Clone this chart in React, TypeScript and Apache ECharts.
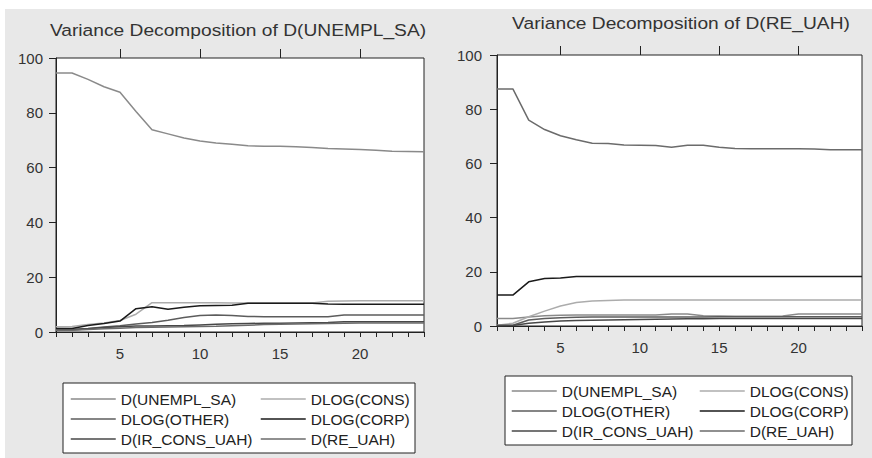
import React, { useEffect, useRef } from "react";
import * as echarts from "echarts";

const FONT = "'Liberation Sans', Arial, sans-serif";

const PERIODS = [1, 2, 3, 4, 5, 6, 7, 8, 9, 10, 11, 12, 13, 14, 15, 16, 17, 18, 19, 20, 21, 22, 23, 24];
const X_LABELS = [5, 10, 15, 20];
const SERIES_NAMES = ["D(UNEMPL_SA)", "DLOG(CONS)", "DLOG(OTHER)", "DLOG(CORP)", "D(IR_CONS_UAH)", "D(RE_UAH)"];
const SERIES_COLORS = ["#8a8a8a", "#acacac", "#5c5c5c", "#1a1a1a", "#474747", "#6b6b6b"];
const TITLE_LEFT = "Variance Decomposition of D(UNEMPL_SA)";
const TITLE_RIGHT = "Variance Decomposition of D(RE_UAH)";

// Left panel: Variance Decomposition of D(UNEMPL_SA)
const L_UNEMPL_SA = [94.5, 94.5, 92.2, 89.5, 87.5, 80.5, 73.8, 72.3, 70.8, 69.7, 69.0, 68.5, 68.0, 67.8, 67.8, 67.6, 67.3, 67.0, 66.8, 66.6, 66.3, 66.0, 65.9, 65.8];
const L_CONS = [1.9, 2.0, 2.7, 3.3, 4.2, 6.5, 10.7, 10.7, 10.7, 10.7, 10.7, 10.6, 10.6, 10.6, 10.6, 10.6, 10.6, 11.2, 11.3, 11.4, 11.4, 11.4, 11.4, 11.4];
const L_OTHER = [1.0, 1.0, 1.3, 1.8, 2.3, 2.9, 3.5, 4.3, 5.3, 6.0, 6.2, 6.0, 5.7, 5.6, 5.6, 5.6, 5.6, 5.6, 6.2, 6.2, 6.2, 6.2, 6.2, 6.2];
const L_CORP = [1.3, 1.3, 2.4, 3.1, 4.0, 8.5, 9.2, 8.3, 9.0, 9.6, 9.7, 9.8, 10.5, 10.5, 10.5, 10.5, 10.5, 10.2, 10.1, 10.1, 10.1, 10.1, 10.1, 10.1];
const L_IR_CONS_UAH = [0.7, 0.7, 1.2, 1.6, 1.9, 2.2, 2.2, 2.3, 2.4, 2.6, 2.8, 3.0, 3.1, 3.2, 3.2, 3.3, 3.4, 3.5, 3.7, 3.7, 3.7, 3.7, 3.7, 3.7];
const L_RE_UAH = [0.6, 0.6, 0.9, 1.2, 1.4, 1.6, 1.7, 1.8, 1.9, 2.0, 2.1, 2.3, 2.5, 2.7, 2.8, 2.9, 3.0, 3.1, 3.2, 3.3, 3.3, 3.3, 3.3, 3.3];

// Right panel: Variance Decomposition of D(RE_UAH)
const R_UNEMPL_SA = [2.8, 2.8, 3.3, 3.8, 4.0, 4.1, 4.1, 4.1, 4.1, 4.1, 4.1, 4.4, 4.4, 3.8, 3.7, 3.6, 3.6, 3.6, 3.7, 4.4, 4.4, 4.4, 4.4, 4.4];
const R_CONS = [0.3, 1.0, 3.4, 5.5, 7.4, 8.7, 9.2, 9.4, 9.6, 9.6, 9.6, 9.6, 9.6, 9.6, 9.6, 9.6, 9.6, 9.6, 9.6, 9.6, 9.6, 9.6, 9.6, 9.6];
const R_OTHER = [0.2, 0.3, 2.2, 2.8, 3.0, 3.2, 3.3, 3.3, 3.3, 3.3, 3.3, 3.3, 3.3, 3.3, 3.4, 3.4, 3.4, 3.4, 3.4, 3.4, 3.4, 3.4, 3.4, 3.4];
const R_CORP = [11.4, 11.4, 16.3, 17.5, 17.7, 18.3, 18.3, 18.3, 18.3, 18.3, 18.3, 18.3, 18.3, 18.3, 18.3, 18.3, 18.3, 18.3, 18.3, 18.3, 18.3, 18.3, 18.3, 18.3];
const R_IR_CONS_UAH = [0.2, 0.2, 1.0, 1.5, 1.8, 2.0, 2.1, 2.2, 2.3, 2.4, 2.5, 2.6, 2.7, 2.7, 2.8, 2.8, 2.8, 2.8, 2.8, 2.8, 2.8, 2.8, 2.8, 2.8];
const R_RE_UAH = [87.5, 87.5, 76.0, 72.5, 70.2, 68.7, 67.4, 67.3, 66.8, 66.7, 66.6, 66.0, 66.7, 66.7, 66.0, 65.5, 65.4, 65.4, 65.4, 65.4, 65.3, 65.0, 65.0, 65.0];

const LEFT_DATA = [L_UNEMPL_SA, L_CONS, L_OTHER, L_CORP, L_IR_CONS_UAH, L_RE_UAH];
const RIGHT_DATA = [R_UNEMPL_SA, R_CONS, R_OTHER, R_CORP, R_IR_CONS_UAH, R_RE_UAH];

function xAxes(gridIndex: number) {
  const common = {
    gridIndex,
    type: "value" as const,
    min: 1,
    max: 24,
    interval: 1,
    splitLine: { show: false },
  };
  return [
    {
      ...common,
      axisLine: { show: true, lineStyle: { color: "#222", width: 1 } },
      axisTick: { show: true, length: 5, lineStyle: { color: "#222", width: 1 } },
      axisLabel: {
        show: true,
        customValues: X_LABELS,
        fontSize: 15,
        color: "#333",
        fontFamily: FONT,
        margin: 14,
      },
    },
    {
      ...common,
      axisLine: { show: false },
      axisTick: { show: true, customValues: X_LABELS, length: 9, lineStyle: { color: "#222", width: 1 } },
      axisLabel: { show: false },
    },
  ];
}

function yAxis(gridIndex: number, margin: number) {
  return {
    gridIndex,
    type: "value" as const,
    min: 0,
    max: 100,
    interval: 20,
    splitLine: { show: false },
    axisLine: { show: true, lineStyle: { color: "#222", width: 1 } },
    axisTick: { show: true, length: 7, lineStyle: { color: "#222", width: 1 } },
    axisLabel: { fontSize: 15, color: "#333", fontFamily: FONT, margin },
  };
}

function legend(left: number, top: number, data: string[]) {
  return {
    left,
    top,
    orient: "vertical" as const,
    padding: 0,
    itemWidth: 45,
    itemHeight: 14,
    itemGap: 4,
    itemTextGap: 3,
    selectedMode: false,
    itemStyle: { opacity: 0 },
    lineStyle: { width: 1.5 },
    textStyle: { fontSize: 15.5, color: "#222", fontFamily: FONT },
    data,
  };
}

export default function App() {
  const ref = useRef<HTMLDivElement>(null);

  useEffect(() => {
    if (!ref.current) return;
    const chart = echarts.init(ref.current, null, { renderer: "svg" });

    const series: any[] = [];
    LEFT_DATA.forEach((vals, i) => {
      series.push({
        name: SERIES_NAMES[i],
        type: "line",
        xAxisIndex: 0,
        yAxisIndex: 0,
        symbol: "none",
        color: SERIES_COLORS[i],
        lineStyle: { color: SERIES_COLORS[i], width: 1.5 },
        data: PERIODS.map((p, k) => [p, vals[k]]),
      });
    });
    RIGHT_DATA.forEach((vals, i) => {
      series.push({
        name: SERIES_NAMES[i],
        type: "line",
        xAxisIndex: 2,
        yAxisIndex: 1,
        symbol: "none",
        color: SERIES_COLORS[i],
        lineStyle: { color: SERIES_COLORS[i], width: 1.5 },
        data: PERIODS.map((p, k) => [p, vals[k]]),
      });
    });

    const option: any = {
      animation: false,
      backgroundColor: "transparent",
      textStyle: { fontFamily: FONT },
      grid: [
        { left: 56, top: 58, width: 368, height: 274, show: true, backgroundColor: "#fff", borderColor: "#222", borderWidth: 1 },
        { left: 497, top: 55, width: 365, height: 271, show: true, backgroundColor: "#fff", borderColor: "#222", borderWidth: 1 },
      ],
      xAxis: [...xAxes(0), ...xAxes(1)],
      yAxis: [yAxis(0, 13), yAxis(1, 15)],
      legend: [
        legend(70, 391, [SERIES_NAMES[0], SERIES_NAMES[2], SERIES_NAMES[4]]),
        legend(260, 391, [SERIES_NAMES[1], SERIES_NAMES[3], SERIES_NAMES[5]]),
        legend(511, 383, [SERIES_NAMES[0], SERIES_NAMES[2], SERIES_NAMES[4]]),
        legend(699, 383, [SERIES_NAMES[1], SERIES_NAMES[3], SERIES_NAMES[5]]),
      ],
      graphic: [
        {
          type: "rect",
          z: 0,
          shape: { x: 63, y: 383, width: 352, height: 70 },
          style: { fill: "#fff", stroke: "#222", lineWidth: 1 },
        },
        {
          type: "rect",
          z: 0,
          shape: { x: 505, y: 376, width: 347, height: 69 },
          style: { fill: "#fff", stroke: "#222", lineWidth: 1 },
        },
        {
          type: "text",
          x: 238,
          y: 30,
          scaleX: 1.13,
          style: {
            text: TITLE_LEFT,
            fontSize: 17,
            fontFamily: FONT,
            fill: "#333",
            align: "center",
            verticalAlign: "middle",
            textAlign: "center",
            textVerticalAlign: "middle",
          },
        },
        {
          type: "text",
          x: 681,
          y: 23,
          scaleX: 1.13,
          style: {
            text: TITLE_RIGHT,
            fontSize: 17,
            fontFamily: FONT,
            fill: "#333",
            align: "center",
            verticalAlign: "middle",
            textAlign: "center",
            textVerticalAlign: "middle",
          },
        },
      ],
      series,
    };

    chart.setOption(option);
    return () => chart.dispose();
  }, []);

  return (
    <div style={{ position: "fixed", left: 0, top: 0, width: 872, height: 458, background: "#fff" }}>
      <div style={{ position: "absolute", left: 5, top: 9, right: 0, bottom: 0, background: "#e8e8e8" }} />
      <div ref={ref} style={{ position: "absolute", left: 0, top: 0, width: 872, height: 458 }} />
    </div>
  );
}
